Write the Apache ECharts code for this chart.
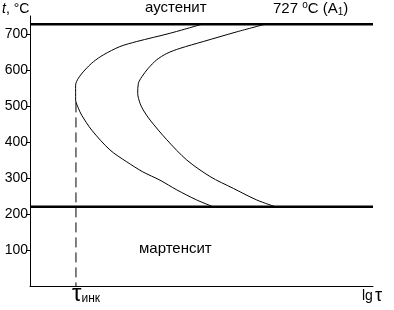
<!DOCTYPE html>
<html><head><meta charset="utf-8">
<script src="https://cdn.jsdelivr.net/npm/echarts@6/dist/echarts.min.js"></script>
<style>html,body{margin:0;padding:0;background:#fff}#c{width:394px;height:310px}</style>
</head><body><div id="c"></div>
<script>
// lg(tau) in arbitrary units 0..10, temperature in °C
const startCurve = [[5.01,727],[4.08,702],[3.11,679],[2.62,665],[2.14,642],[1.85,623],[1.60,600],[1.41,577],[1.33,558],[1.33,517],[1.41,494],[1.51,474],[1.80,433],[2.33,378],[2.82,345],[3.29,317],[3.79,294],[4.28,267],[4.86,239],[5.34,220]];
const endCurve = [[6.85,727],[6.03,706],[5.05,679],[4.37,660],[3.99,646],[3.69,628],[3.45,605],[3.26,581],[3.16,563],[3.14,535],[3.21,507],[3.30,489],[3.50,461],[3.99,406],[4.57,350],[5.25,304],[5.93,271],[6.61,239],[7.19,219]];
const A1 = 727, Ms = 220;
const tauInc = 1.34, tauIncTop = 510;
const xMin = 0, xMax = 10;
const yTicks = [100,200,300,400,500,600,700];

const chart = echarts.init(document.getElementById('c'));
const font = 'Liberation Sans, Arial, sans-serif';
const curveStyle = {type:'line',smooth:0.3,symbol:'none',lineStyle:{color:'#000',width:1}};
chart.setOption({
  animation:false,
  grid:{left:30,right:21,top:16,bottom:24},
  xAxis:{type:'value',min:xMin,max:xMax,axisLine:{lineStyle:{color:'#000',width:1}},axisTick:{show:false},axisLabel:{show:false},splitLine:{show:false}},
  yAxis:{type:'value',min:0,max:750,
    axisLine:{show:true,lineStyle:{color:'#000',width:1}},
    axisTick:{show:true,length:4,customValues:yTicks,lineStyle:{color:'#000'}},
    axisLabel:{customValues:yTicks,color:'#000',fontSize:14,fontFamily:font,margin:2},
    splitLine:{show:false}},
  series:[
    Object.assign({data:startCurve},curveStyle),
    Object.assign({data:endCurve},curveStyle),
    {type:'line',data:[[xMin,A1],[xMax,A1]],symbol:'none',lineStyle:{color:'#000',width:2.5}},
    {type:'line',data:[[xMin,Ms],[xMax,Ms]],symbol:'none',lineStyle:{color:'#000',width:2.5}},
    {type:'line',data:[[tauInc,tauIncTop],[tauInc,0]],symbol:'none',lineStyle:{color:'#000',width:1,type:[10,5]}}
  ]
});
const [tx,ty] = chart.convertToPixel({gridIndex:0},[tauInc,0]);
chart.setOption({graphic:[
  {type:'text',left:2,top:2,style:{text:'{i|t}, °C',rich:{i:{fontStyle:'italic',fontSize:14,fontFamily:font}},fontSize:14,fontFamily:font,fill:'#000'}},
  {type:'text',left:145,top:0,style:{text:'аустенит',fontSize:15,fontFamily:font,fill:'#000'}},
  {type:'text',left:273,top:0,style:{text:'727 {s|o}C (A{b|1})',rich:{s:{fontSize:10,padding:[0,0,7,0]},b:{fontSize:10,padding:[7,0,0,0]}},fontSize:15,fontFamily:font,fill:'#000'}},
  {type:'text',left:139,top:241,style:{text:'мартенсит',fontSize:15,fontFamily:font,fill:'#000'}},
  {type:'text',x:tx-4,y:ty-4,style:{text:'τ{s|инк}',rich:{s:{fontSize:12,padding:[10,0,0,0]}},fontSize:24,fontFamily:font,fill:'#000'}},
  {type:'text',left:362,top:287,style:{text:'lg{t|τ}',rich:{t:{fontSize:18,padding:[0,0,0,2]}},fontSize:14,fontFamily:font,fill:'#000'}}
]});
</script></body></html>
